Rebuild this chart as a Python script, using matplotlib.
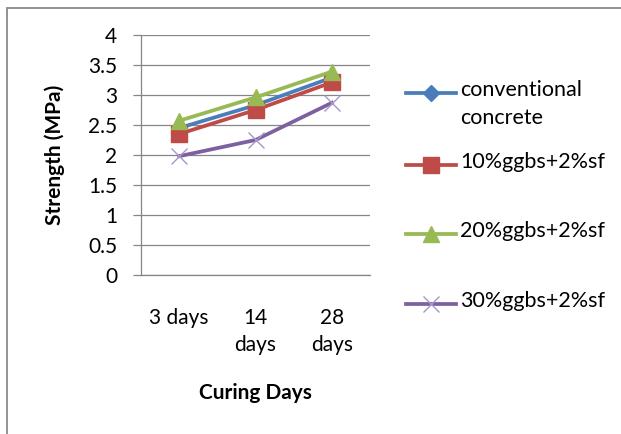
import numpy as np
import matplotlib.pyplot as plt
from matplotlib.patches import Rectangle
from matplotlib.lines import Line2D

plt.rcParams['font.family'] = ['Lato', 'DejaVu Sans']

# data
days = ["3 days", "14\ndays", "28\ndays"]
conventional = [2.45, 2.83, 3.29]
ggbs10 = [2.35, 2.75, 3.21]
ggbs20 = [2.57, 2.96, 3.39]
ggbs30 = [1.98, 2.25, 2.87]

labels = ["conventional\nconcrete", "10%ggbs+2%sf", "20%ggbs+2%sf", "30%ggbs+2%sf"]
colors = ["#4A7EBB", "#BE4B48", "#98B954", "#7D60A0"]
markers = ["D", "s", "^", "x"]
msizes = [8.5, 12, 11.5, 12]

W, H = 621, 434
fig = plt.figure(figsize=(W / 100, H / 100), dpi=100)
ax = fig.add_axes([141 / W, 1 - 275 / H, 229 / W, 240 / H])

x = np.arange(len(days))
series = [conventional, ggbs10, ggbs20, ggbs30]
for vals, c, m, ms in zip(series, colors, markers, msizes):
    if m == "x":
        ax.plot(x, vals, color=c, lw=2.7, marker=m, ms=ms, mec="#A896C8", mew=1.0, zorder=3)
    else:
        ax.plot(x, vals, color=c, lw=2.7, marker=m, ms=ms, mec=c, zorder=3)

ax.set_xlim(-0.5, 2.5)
ax.set_ylim(0, 4)
ax.set_yticks(np.arange(0, 4.01, 0.5))
ax.set_yticklabels(["0", "0.5", "1", "1.5", "2", "2.5", "3", "3.5", "4"])
ax.set_xticks(x)
ax.set_xticklabels(days, multialignment="center", linespacing=1.4)
ax.grid(axis="y", color="#868686", lw=0.9)
ax.set_axisbelow(True)
for s in ["top", "right"]:
    ax.spines[s].set_visible(False)
ax.spines["left"].set_color("#868686")
ax.spines["bottom"].set_color("#868686")
ax.spines["left"].set_linewidth(0.9)
ax.spines["bottom"].set_linewidth(0.9)
ax.tick_params(axis="y", length=6, width=0.9, color="#868686", pad=11, labelsize=15)
ax.tick_params(axis="x", length=0, pad=24, labelsize=15)

ax.set_xlabel("Curing Days", fontsize=15, fontweight="bold", va="center")
ax.xaxis.set_label_coords(0.5, (275 - 393) / 240)
ax.set_ylabel("Strength (MPa)", fontsize=15, fontweight="bold", va="center")
ax.yaxis.set_label_coords((55 - 141) / 229, 0.5)

# legend drawn by hand to keep handles on the first text line
leg_y = [93, 165, 234, 304]
for lab, c, m, ms, yy in zip(labels, colors, markers, msizes, leg_y):
    yf = 1 - yy / H
    mec = "#A896C8" if m == "x" else c
    fig.add_artist(Line2D([406 / W, 456 / W], [yf, yf], transform=fig.transFigure,
                          color=c, lw=2.7))
    fig.add_artist(Line2D([431 / W], [yf], transform=fig.transFigure, color=c,
                          marker=m, ms=ms, mec=mec, mew=1.0))
    fig.text(460 / W, yf + 13 / H, lab, fontsize=15.5, va="top", ha="left",
             linespacing=1.5)

# outer frame
fig.add_artist(Rectangle((7 / W, -0.1), 1.2, 1 - 8 / H + 0.1, transform=fig.transFigure,
                         fill=False, ec="#8A8A8A", lw=1.3))

fig.savefig("out.png", dpi=100)
